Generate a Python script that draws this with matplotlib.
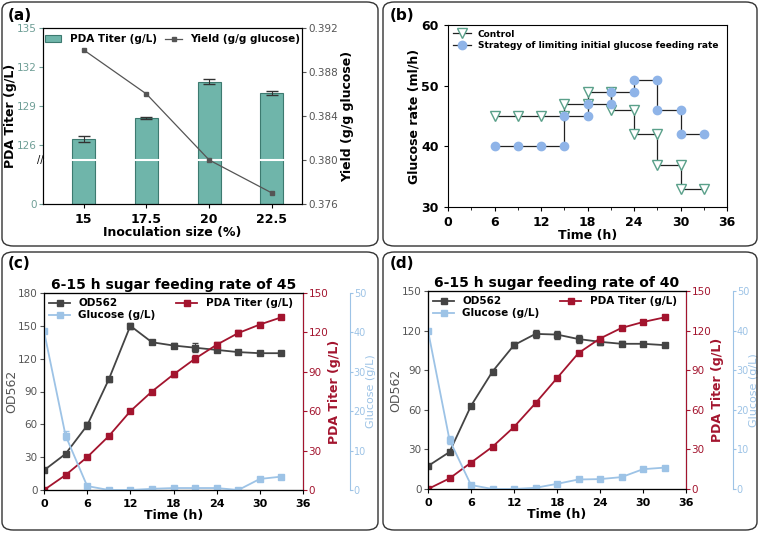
import numpy as np
import matplotlib.pyplot as plt
from matplotlib.patches import FancyBboxPatch

W, H = 759, 533

# --- (a) inoculation size ---
inoc_labels = ['15', '17.5', '20', '22.5']
titer_a = [126.5, 128.1, 130.9, 130.0]
titer_a_err = [0.2, 0.08, 0.2, 0.15]
yield_a = [0.390, 0.386, 0.380, 0.377]

# --- (b) glucose feeding rate ---
ctrl_t = [6, 9, 12, 15, 15, 18, 18, 21, 21, 24, 24, 27, 27, 30, 30, 33]
ctrl_r = [45, 45, 45, 45, 47, 47, 49, 49, 46, 46, 42, 42, 37, 37, 33, 33]
lim_t = [6, 9, 12, 15, 15, 18, 18, 21, 21, 24, 24, 27, 27, 30, 30, 33]
lim_r = [40, 40, 40, 40, 45, 45, 47, 47, 49, 49, 51, 51, 46, 46, 42, 42]

# --- (c), (d) fermentation profiles ---
time_h = [0, 3, 6, 9, 12, 15, 18, 21, 24, 27, 30, 33]
od_c = [18, 33, 59, 101, 150, 135, 132, 130, 128, 126, 125, 125]
od_c_err = [2, 1.5, 3, 2, 3, 2, 2, 4, 1.5, 1.5, 1, 1]
pda_c = [0, 11.4, 25, 41, 60, 75, 88, 100, 110.6, 119.5, 126, 131.5]
pda_c_err = [0, 0.5, 0.5, 0.8, 0.5, 0.5, 2, 2.5, 2, 2.5, 2, 0.8]
glc_c = [40.3, 13.8, 1.0, 0, 0, 0.3, 0.5, 0.5, 0.5, 0, 2.8, 3.4]
glc_c_err = [0.5, 1.2, 0.2, 0, 0, 0, 0, 0, 0, 0, 0.2, 0.2]
od_d = [17.4, 28, 63, 89, 109, 117.5, 117, 113.6, 111.5, 110, 110, 109]
od_d_err = [1, 1, 1, 2, 2.5, 3, 3, 3, 2.5, 2, 1.5, 1]
pda_d = [0, 8, 20, 32, 47, 65, 84, 103, 114, 122, 126.5, 130]
glc_d = [40, 12.4, 1.0, 0, 0, 0.3, 1.3, 2.4, 2.5, 3, 5, 5.4]
glc_d_err = [0.3, 1.0, 0.2, 0, 0, 0, 0, 0, 0, 0, 0.2, 0.2]

TEAL = '#6fb5aa'
TEAL_TXT = '#6e9e96'
GRAY = '#555555'
RED = '#a3142e'
LBLUE = '#9dc3e6'
GREEN = '#5aa08a'
CBLUE = '#8fb4e8'

plt.rcParams['font.family'] = 'DejaVu Sans'
plt.rcParams['font.size'] = 8
plt.rcParams['xtick.major.size'] = 3
plt.rcParams['ytick.major.size'] = 3

fig = plt.figure(figsize=(W / 100, H / 100), dpi=100)


def ax_px(l, t, r, b):
    return fig.add_axes([l / W, 1 - b / H, (r - l) / W, (b - t) / H])


def box(l, t, r, b, label, lx, ly):
    fig.patches.append(FancyBboxPatch((l / W, 1 - b / H), (r - l) / W, (b - t) / H,
                                      boxstyle='round,pad=0,rounding_size=0.015',
                                      transform=fig.transFigure, fill=False,
                                      edgecolor='#333333', linewidth=1.0))
    fig.text(lx / W, 1 - ly / H, label, fontsize=11, fontweight='bold', va='center')


box(2, 2, 378, 246, '(a)', 8, 16)
box(383, 2, 757, 246, '(b)', 390, 16)
box(2, 252, 378, 530, '(c)', 8, 264)
box(383, 252, 757, 530, '(d)', 390, 264)

# ---------------- (a) ----------------
BREAK = 124.9
BOT = BREAK - 44 / 13.0


def brk(v):
    # broken axis: 0 sits at the bottom, the upper part is linear from BREAK
    return BOT if v == 0 else v


ax = ax_px(43, 28, 302, 204)
x = np.arange(len(inoc_labels))
ax.bar(x, np.array(titer_a) - BOT, bottom=BOT, width=0.37, color=TEAL,
       edgecolor='#3d7a70', linewidth=0.8, label='PDA Titer (g/L)')
ax.errorbar(x, titer_a, yerr=titer_a_err, fmt='none', ecolor='#333', capsize=4, lw=0.8)
ax.axhline(BREAK, color='white', lw=1.5, zorder=3)
ax.set_ylim(BOT, 135)
ax.set_xlim(-0.65, 3.48)
ax.set_yticks([brk(0), 126, 129, 132, 135])
ax.set_yticklabels(['0', '126', '129', '132', '135'])
ax.tick_params(axis='y', colors=TEAL_TXT, labelsize=7.5, pad=1.5)
ax.set_xticks(x)
ax.set_xticklabels(inoc_labels, fontweight='bold', fontsize=9)
ax.set_xlabel('Inoculation size (%)', fontweight='bold', fontsize=9, labelpad=0)
ax.set_ylabel('PDA Titer (g/L)', fontweight='bold', fontsize=9, labelpad=0)
ax.text(-0.01, (BREAK - BOT) / (135 - BOT), '//', transform=ax.transAxes,
        ha='center', va='center', fontsize=7)
ax2 = ax.twinx()
ax2.plot(x, yield_a, '-s', color=GRAY, ms=3.5, lw=0.9, label='Yield (g/g glucose)')
ax2.set_ylim(0.376, 0.392)
ax2.set_yticks([0.376, 0.380, 0.384, 0.388, 0.392])
ax2.set_yticklabels(['0.376', '0.380', '0.384', '0.388', '0.392'])
ax2.tick_params(axis='y', colors=GRAY, labelsize=7.5, pad=1.5)
ax2.set_ylabel('Yield (g/g glucose)', fontweight='bold', fontsize=9, labelpad=2)
h1, l1 = ax.get_legend_handles_labels()
h2, l2 = ax2.get_legend_handles_labels()
ax.legend(h1 + h2, l1 + l2, loc='upper center', ncol=2, frameon=False,
          prop={'weight': 'bold', 'size': 7.5}, columnspacing=0.8,
          handlelength=1.6, borderaxespad=0.2)

# ---------------- (b) ----------------
ax = ax_px(448, 25, 727, 207)
ax.plot(ctrl_t, ctrl_r, '-v', color='#222222', lw=0.9, ms=7, mfc='white',
        mec=GREEN, label='Control')
ax.plot(lim_t, lim_r, '-o', color='#222222', lw=0.9, ms=6, mfc=CBLUE,
        mec=CBLUE, label='Strategy of limiting initial glucose feeding rate')
ax.set_xlim(0, 36)
ax.set_ylim(30, 60)
ax.set_xticks(range(0, 37, 6))
ax.set_yticks([30, 40, 50, 60])
ax.set_xticks(range(0, 37, 3), minor=True)
for lab in ax.get_xticklabels() + ax.get_yticklabels():
    lab.set_fontweight('bold')
    lab.set_fontsize(9)
ax.set_xlabel('Time (h)', fontweight='bold', fontsize=9, labelpad=0)
ax.set_ylabel('Glucose rate (ml/h)', fontweight='bold', fontsize=9, labelpad=1)
ax.legend(loc='upper left', frameon=False, prop={'weight': 'bold', 'size': 6.5},
          handlelength=2, borderaxespad=0.1, labelspacing=0.3)


# ---------------- (c), (d) ----------------
def profile(box_px, title, od, od_err, od_max, pda, pda_err, glc, glc_err, spine_off):
    l, t, r, b = box_px
    ax = ax_px(l, t, r, b)
    e1 = ax.errorbar(time_h, od, yerr=od_err, fmt='-s', color='#444444', ms=4,
                     lw=1.3, capsize=2.5, elinewidth=0.8, zorder=4)
    ax.set_xlim(0, 36)
    ax.set_ylim(0, od_max)
    ax.set_yticks(np.arange(0, od_max + 1, 30))
    ax.set_xticks(range(0, 37, 6))
    ax.tick_params(axis='y', colors=GRAY, labelsize=7.5, pad=1.5)
    ax.tick_params(axis='x', labelsize=8)
    for lab in ax.get_xticklabels():
        lab.set_fontweight('bold')
    ax.set_xlabel('Time (h)', fontweight='bold', fontsize=9, labelpad=0)
    ax.set_ylabel('OD562', color=GRAY, fontsize=9, labelpad=0)
    ax.set_title(title, fontweight='bold', fontsize=10, pad=3)

    axr = ax.twinx()
    e2 = axr.errorbar(time_h, pda, yerr=pda_err, fmt='-s', color=RED, ms=4,
                      lw=1.3, capsize=2.5, elinewidth=0.8)
    axr.set_ylim(0, 150)
    axr.set_yticks(range(0, 151, 30))
    axr.spines['right'].set_color(RED)
    axr.tick_params(axis='y', colors=RED, labelsize=7.5, pad=1)
    axr.set_ylabel('PDA Titer (g/L)', color=RED, fontweight='bold', fontsize=9, labelpad=0)

    axg = ax.twinx()
    axg.spines['right'].set_position(('outward', spine_off))
    e3 = axg.errorbar(time_h, glc, yerr=glc_err, fmt='-s', color=LBLUE, ms=4,
                      lw=1.3, capsize=2.5, elinewidth=0.8)
    axg.set_ylim(0, 50)
    axg.set_yticks(range(0, 51, 10))
    axg.spines['right'].set_color(LBLUE)
    axg.tick_params(axis='y', colors=LBLUE, labelsize=7, pad=0.5, length=2)
    axg.set_ylabel('Glucose (g/L)', color=LBLUE, fontsize=8, labelpad=0)

    ax.legend([e1[0], e3[0], e2[0]], ['OD562', 'Glucose (g/L)', 'PDA Titer (g/L)'],
              loc='upper left', ncol=2, frameon=False,
              prop={'weight': 'bold', 'size': 7.5}, handlelength=2,
              borderaxespad=0.1, labelspacing=0.2, columnspacing=2.0)


profile((44, 293, 303, 490), '6-15 h sugar feeding rate of 45', od_c, od_c_err, 180,
        pda_c, pda_c_err, glc_c, glc_c_err, 34)
profile((428, 291, 686, 489), '6-15 h sugar feeding rate of 40', od_d, od_d_err, 150,
        pda_d, [0] * 12, glc_d, glc_d_err, 34)

fig.savefig('out.png', dpi=100)
